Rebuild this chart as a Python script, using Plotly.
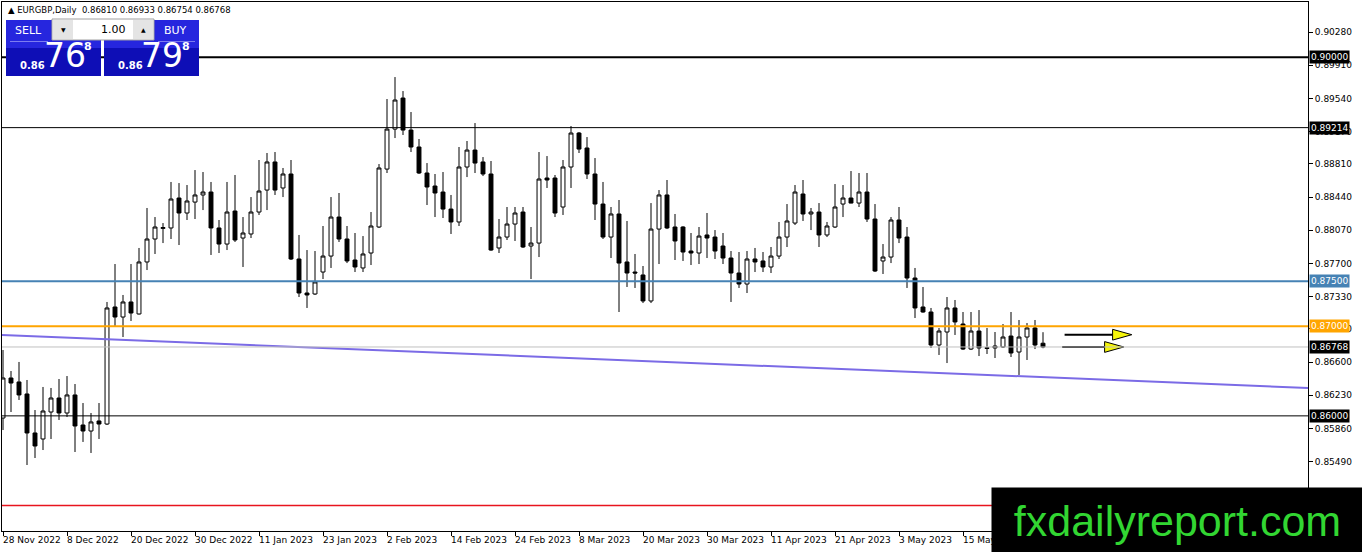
#! python3
# EURGBP daily candles, MT4 style, with plotly
import pandas as pd
import plotly.graph_objects as go

# ---- data -------------------------------------------------------------
dates = pd.bdate_range('2022-11-28', periods=131)

opens = [0.85976, 0.86422, 0.86378, 0.86244, 0.85809, 0.85742, 0.86043, 0.86199, 0.86032, 0.86233,
         0.85898, 0.85831, 0.85943, 0.85909, 0.87214, 0.87102, 0.87270, 0.87136, 0.87716, 0.87972,
         0.88090, 0.88095, 0.88429, 0.88262, 0.88384, 0.88463, 0.88496, 0.88095, 0.87916, 0.88284,
         0.87983, 0.88028, 0.88273, 0.88518, 0.88831, 0.88541, 0.88697, 0.87749, 0.87370, 0.87359,
         0.87604, 0.87782, 0.88217, 0.87972, 0.87738, 0.87649, 0.87816, 0.88106, 0.88752, 0.89198,
         0.89544, 0.89187, 0.88998, 0.88708, 0.88563, 0.88496, 0.88306, 0.88162, 0.88775, 0.88964,
         0.88831, 0.88697, 0.87872, 0.87994, 0.88139, 0.88273, 0.87894, 0.87927, 0.88652, 0.88652,
         0.88329, 0.88775, 0.89154, 0.88987, 0.88697, 0.88362, 0.87994, 0.88251, 0.87716, 0.87604,
         0.87571, 0.87281, 0.88083, 0.88463, 0.88106, 0.88106, 0.87838, 0.87816, 0.88017, 0.87994,
         0.87894, 0.87760, 0.87593, 0.87470, 0.87749, 0.87727, 0.87660, 0.87782, 0.87994, 0.88150,
         0.88474, 0.88251, 0.88273, 0.88017, 0.88106, 0.88362, 0.88429, 0.88373, 0.88496, 0.88195,
         0.87727, 0.87771, 0.88184, 0.87994, 0.87537, 0.87214, 0.87158, 0.86790, 0.86935, 0.87203,
         0.87024, 0.86745, 0.86946, 0.86760, 0.86757, 0.86768, 0.86890, 0.86712, 0.86879, 0.86980,
         0.86810]
highs = [0.86734, 0.86500, 0.86601, 0.86400, 0.86065, 0.86322, 0.86311, 0.86411, 0.86444, 0.86355,
         0.86143, 0.86032, 0.86143, 0.87270, 0.87693, 0.87348, 0.87693, 0.87872, 0.88318, 0.88217,
         0.88150, 0.88608, 0.88596, 0.88574, 0.88741, 0.88719, 0.88608, 0.88184, 0.88608, 0.88686,
         0.88217, 0.88440, 0.88853, 0.88931, 0.88942, 0.88764, 0.88853, 0.88017, 0.87849, 0.87838,
         0.88117, 0.88440, 0.88485, 0.88117, 0.88039, 0.88005, 0.88273, 0.88808, 0.89533, 0.89778,
         0.89622, 0.89388, 0.89087, 0.88819, 0.88697, 0.88719, 0.88463, 0.88998, 0.89065, 0.89265,
         0.88886, 0.88842, 0.88195, 0.88329, 0.88329, 0.88329, 0.88106, 0.88942, 0.88897, 0.88686,
         0.88853, 0.89232, 0.89165, 0.89109, 0.88875, 0.88608, 0.88329, 0.88407, 0.88173, 0.87805,
         0.87671, 0.88373, 0.88518, 0.88630, 0.88251, 0.88115, 0.88039, 0.88106, 0.88262, 0.88072,
         0.88039, 0.87838, 0.87827, 0.87838, 0.87872, 0.87827, 0.87883, 0.88162, 0.88362, 0.88574,
         0.88630, 0.88318, 0.88373, 0.88162, 0.88585, 0.88574, 0.88730, 0.88708, 0.88708, 0.88362,
         0.87916, 0.88217, 0.88329, 0.88106, 0.87649, 0.87437, 0.87203, 0.86980, 0.87325, 0.87292,
         0.87158, 0.87158, 0.87180, 0.86980, 0.86935, 0.87024, 0.87158, 0.87069, 0.87035, 0.87069,
         0.86933]
lows = [0.85842, 0.86043, 0.86177, 0.85452, 0.85530, 0.85619, 0.85742, 0.85954, 0.85987, 0.85597,
        0.85709, 0.85586, 0.85742, 0.85898, 0.87002, 0.86879, 0.87058, 0.87130, 0.87626, 0.87805,
        0.87927, 0.87972, 0.87905, 0.88184, 0.88195, 0.88295, 0.87794, 0.87816, 0.87849, 0.87939,
        0.87660, 0.87983, 0.88240, 0.88295, 0.88463, 0.88440, 0.87738, 0.87325, 0.87203, 0.87348,
        0.87526, 0.87649, 0.87939, 0.87704, 0.87604, 0.87604, 0.87682, 0.88095, 0.88708, 0.89098,
        0.89132, 0.88942, 0.88697, 0.88351, 0.88217, 0.88206, 0.88028, 0.88117, 0.88663, 0.88708,
        0.88674, 0.87840, 0.87816, 0.87961, 0.87950, 0.87872, 0.87526, 0.87771, 0.88541, 0.88217,
        0.88240, 0.88541, 0.88931, 0.88641, 0.88184, 0.87972, 0.87760, 0.87158, 0.87437, 0.87426,
        0.87258, 0.87258, 0.87693, 0.88083, 0.87738, 0.87727, 0.87682, 0.87693, 0.87760, 0.87749,
        0.87693, 0.87270, 0.87426, 0.87370, 0.87604, 0.87604, 0.87593, 0.87749, 0.87883, 0.88128,
        0.88173, 0.88072, 0.87883, 0.87994, 0.88095, 0.88217, 0.88370, 0.88329, 0.88162, 0.87604,
        0.87582, 0.87704, 0.87927, 0.87426, 0.87091, 0.87150, 0.86757, 0.86679, 0.86589, 0.86902,
        0.86734, 0.86734, 0.86667, 0.86690, 0.86645, 0.86757, 0.86656, 0.86456, 0.86623, 0.86745,
        0.86754]
closes = [0.86422, 0.86366, 0.86233, 0.85809, 0.85664, 0.86054, 0.86199, 0.86032, 0.86233, 0.85887,
          0.85831, 0.85932, 0.85909, 0.87203, 0.87102, 0.87270, 0.87147, 0.87716, 0.87972, 0.88106,
          0.88100, 0.88418, 0.88262, 0.88396, 0.88463, 0.88496, 0.88095, 0.87916, 0.88273, 0.87961,
          0.88039, 0.88273, 0.88507, 0.88831, 0.88518, 0.88697, 0.87749, 0.87370, 0.87348, 0.87493,
          0.87782, 0.88217, 0.87972, 0.87727, 0.87660, 0.87805, 0.88117, 0.88764, 0.89198, 0.89522,
          0.89187, 0.88998, 0.88708, 0.88552, 0.88485, 0.88306, 0.88162, 0.88775, 0.88964, 0.88819,
          0.88697, 0.87849, 0.87994, 0.88139, 0.88262, 0.87883, 0.87927, 0.88641, 0.88630, 0.88262,
          0.88775, 0.89154, 0.88975, 0.88697, 0.88362, 0.87994, 0.88251, 0.87704, 0.87593, 0.87593,
          0.87281, 0.88083, 0.88463, 0.88095, 0.87950, 0.87827, 0.87816, 0.88005, 0.87983, 0.87838,
          0.87760, 0.87593, 0.87470, 0.87749, 0.87716, 0.87660, 0.87782, 0.87994, 0.88173, 0.88496,
          0.88251, 0.88273, 0.88017, 0.88117, 0.88329, 0.88429, 0.88373, 0.88496, 0.88195, 0.87615,
          0.87771, 0.88184, 0.87983, 0.87537, 0.87203, 0.87158, 0.86790, 0.86946, 0.87203, 0.87047,
          0.86745, 0.86946, 0.86757, 0.86752, 0.86779, 0.86879, 0.86701, 0.86879, 0.86980, 0.86790,
          0.86768]

# horizontal levels: price, colour, width, label colour (None = no label)
levels = [0.90000, 0.89214, 0.87500, 0.87000, 0.86768, 0.86000, 0.85000]
level_colors = ['#000000', '#000000', '#4682B4', '#FFA500', '#C0C0C0', '#000000', '#E8141E']
level_widths = [2, 1, 2, 2, 1, 1, 1.5]
level_boxes = ['#000000', '#000000', '#4682B4', '#FFA500', '#000000', '#000000', None]

# trend line (bar index, price)
trend_x = [-0.125, 163.125]
trend_y = [0.86902, 0.86311]

# yellow arrows (bar index start/end, price)
arrow_x0 = [132.7, 132.4]
arrow_x1 = [141.1, 140.1]
arrow_y = [0.86905, 0.86768]

price_ticks = [0.90280, 0.89910, 0.89540, 0.89170, 0.88810, 0.88440, 0.88070,
               0.87700, 0.87330, 0.86970, 0.86600, 0.86230, 0.85860, 0.85490]
date_ticks = list(range(0, 131, 8))

header = '\u25B2 EURGBP,Daily  0.86810 0.86933 0.86754 0.86768'
FONT = 'DejaVu Sans'

W, H = 1362, 552
L, R, T, B = 2, 1308, 2, 531


def px(x):
    return (x - L) / (R - L)


def py(y):
    return (B - y) / (B - T)


idx = list(range(len(dates)))

fig = go.Figure()
fig.add_trace(go.Candlestick(
    x=idx, open=opens, high=highs, low=lows, close=closes,
    increasing=dict(line=dict(color='black', width=1), fillcolor='white'),
    decreasing=dict(line=dict(color='black', width=1), fillcolor='black'),
    whiskerwidth=0, hoverinfo='skip', showlegend=False))

fig.add_trace(go.Scatter(x=trend_x, y=trend_y, mode='lines',
                         line=dict(color='#7B6BE6', width=2),
                         hoverinfo='skip', showlegend=False))

# arrows: black shaft + yellow head
for x0, x1, y in zip(arrow_x0, arrow_x1, arrow_y):
    head = 2.4
    dy = 0.00060
    fig.add_trace(go.Scatter(x=[x0, x1 - head], y=[y, y], mode='lines',
                             line=dict(color='black', width=2),
                             hoverinfo='skip', showlegend=False))
    fig.add_trace(go.Scatter(x=[x1 - head, x1, x1 - head, x1 - head],
                             y=[y + dy, y, y - dy, y + dy],
                             mode='lines', fill='toself', fillcolor='#F5F50A',
                             line=dict(color='black', width=1),
                             hoverinfo='skip', showlegend=False))

shapes = []
annotations = []

for lv, c, w in zip(levels, level_colors, level_widths):
    shapes.append(dict(type='line', xref='paper', x0=0, x1=1, yref='y', y0=lv, y1=lv,
                       line=dict(color=c, width=w), layer='above'))

for lv, bc in zip(levels, level_boxes):
    if bc is None:
        continue
    annotations.append(dict(xref='paper', x=1, xanchor='left', xshift=1, yref='y', y=lv,
                            yanchor='middle', text=f'{lv:.5f}', showarrow=False,
                            bgcolor=bc, borderpad=1,
                            font=dict(family=FONT, size=9, color='white')))

# date labels, left aligned on their bar like MT4
for i in date_ticks:
    d = dates[i]
    annotations.append(dict(xref='x', x=i, xanchor='left', xshift=-2, yref='paper', y=0,
                            yanchor='top', yshift=-2, text=f'{d.day} {d:%b %Y}',
                            showarrow=False, font=dict(family=FONT, size=9, color='black')))

# one click trading panel
def rect(x0, y0, x1, y1, fill, line=None):
    shapes.append(dict(type='rect', xref='paper', yref='paper', x0=px(x0), x1=px(x1),
                       y0=py(y1), y1=py(y0), fillcolor=fill, layer='above',
                       line=dict(color=line or fill, width=1 if line else 0)))


def text(x, y, s, size, color='white', bold=False, anchor='center'):
    annotations.append(dict(xref='paper', yref='paper', x=px(x), y=py(y), xanchor=anchor,
                            yanchor='middle', showarrow=False,
                            text=f'<b>{s}</b>' if bold else s,
                            font=dict(family=FONT, size=size, color=color)))


rect(6, 20, 101, 48, '#2626DE')
rect(6, 48, 101, 76, '#0E0EB6')
rect(104, 20, 199, 48, '#2626DE')
rect(104, 48, 199, 76, '#0E0EB6')
rect(10, 41, 48, 42, '#7C7CF0')
rect(158, 41, 195, 42, '#7C7CF0')
rect(52, 19, 154, 40, 'white', '#A0A0A0')
rect(53, 20, 73, 39, '#E4E4E4')
rect(133, 20, 153, 39, '#E4E4E4')

text(6, 10, header, 8.5, 'black', anchor='left')
text(28, 31, 'SELL', 11)
text(175, 31, 'BUY', 11)
text(63, 30, '\u25BC', 6, 'black')
text(143, 30, '\u25B2', 6, 'black')
text(128, 30, '1.00', 11, 'black', anchor='right')
text(32, 65, '0.86', 10, bold=True)
text(65, 56, '76', 33)
text(88, 46, '8', 11, bold=True)
text(130, 65, '0.86', 10, bold=True)
text(162, 56, '79', 33)
text(186, 46, '8', 11, bold=True)

# watermark box
annotations.append(dict(xref='paper', yref='paper', x=px(991), y=py(487), xanchor='left',
                        yanchor='top', width=371, height=65, borderpad=0, align='center',
                        bgcolor='black', showarrow=False, text='fxdailyreport.com',
                        font=dict(family='Liberation Sans', size=43, color='#32D632')))

fig.update_layout(
    width=W, height=H,
    margin=dict(l=L, r=W - R, t=T, b=H - B, pad=0),
    paper_bgcolor='white', plot_bgcolor='white',
    shapes=shapes, annotations=annotations,
    showlegend=False, hovermode=False,
    xaxis=dict(range=[-0.125, 163.125], rangeslider=dict(visible=False),
               showgrid=False, zeroline=False, showline=True, mirror=True,
               linecolor='black', linewidth=1, ticks='outside', ticklen=4,
               tickcolor='black', tickvals=date_ticks, showticklabels=False),
    yaxis=dict(range=[0.84716, 0.90615], side='right', showgrid=False, zeroline=False,
               showline=True, mirror=True, linecolor='black', linewidth=1,
               ticks='outside', ticklen=4, tickcolor='black', tickvals=price_ticks,
               ticktext=[f'{p:.5f}' for p in price_ticks],
               tickfont=dict(family=FONT, size=9, color='black')))

# page body has an 8px margin by default; drop it so the chart fills the window
fig.write_html('out.html', config={'displayModeBar': False},
               post_script="document.body.style.margin='0';")
